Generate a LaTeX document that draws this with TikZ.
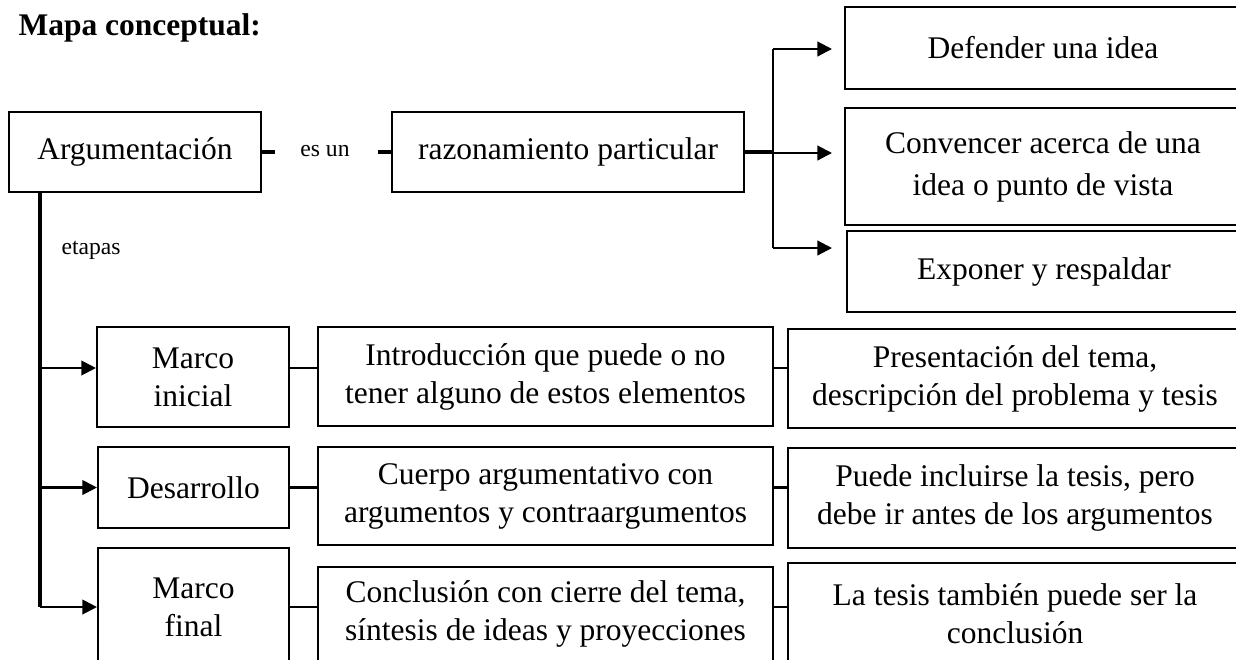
\documentclass[tikz,border=0pt]{standalone}
\usepackage{fontspec}
\setmainfont{Liberation Serif}
\usetikzlibrary{arrows.meta}

\tikzset{
    box/.style={draw, line width=0.8pt, align=center, inner sep=0pt, font=\fontsize{12}{14.5}\selectfont},
    bsize/.style 2 args={minimum width=#1*0.381pt, minimum height=#2*0.381pt},
    small/.style={inner sep=0pt, font=\fontsize{9}{11}\selectfont},
    lnk/.style={line width=0.8pt},
    stub/.style={line width=1.5pt},
    arr/.style={line width=0.8pt, -{Triangle[length=5.6pt,width=5.6pt]}}
}

\begin{document}
\begin{tikzpicture}[x=0.381pt, y=-0.381pt]
        \useasboundingbox (0,0) rectangle (1236,659);
        \node[anchor=base west, inner sep=0pt, font=\bfseries\fontsize{12}{14}\selectfont] (title) at (18,35) {Mapa conceptual:};

        % upper row
        \node[box, bsize={252}{80}] (arg) at (135,152) {Argumentación};
        \node[box, bsize={352}{80}] (raz) at (568,152) {razonamiento particular};
        \node[small] (esun) at (325,151) {es un};
        \coordinate (esl) at (275,152);
        \coordinate (esr) at (378,152);
        \draw[stub] (arg.east) -- (esl);
        \draw[stub] (esr) -- (raz.west);

        \node[box, bsize={396}{82}] (def) at (1043,48) {Defender una idea};
        \node[box, bsize={396}{117}, font=\fontsize{12}{16}\selectfont] (conv) at (1043,166.5) {Convencer acerca de una\\idea o punto de vista};
        \node[box, bsize={394}{81}] (expo) at (1044,271.5) {Exponer y respaldar};
        \coordinate (fork) at (773,152);
        \coordinate (t1) at (832,49);
        \coordinate (t2) at (832,153);
        \coordinate (t3) at (832,248);
        \draw[stub] (raz.east) -- (fork);
        \draw[lnk] (fork |- t1) -- (fork |- t3);
        \foreach \t in {t1,t2,t3}
            \draw[arr] (fork |- \t) -- (\t);

        % etapas
        \coordinate (trunk) at (40,192);
        \node[small, anchor=base west] (etapas) at (61,254) {etapas};
        \node[box, bsize={192}{100}] (mi) at (193,377) {Marco\\inicial};
        \node[box, bsize={191}{81}] (des) at (193.5,487.5) {Desarrollo};
        \node[box, bsize={191}{118}] (mf) at (193.5,607) {Marco\\final};
        \node[box, bsize={455}{99}] (intro) at (545.5,376.5) {Introducción que puede o no\\tener alguno de estos elementos};
        \node[box, bsize={455}{98}] (cuerpo) at (545.5,496) {Cuerpo argumentativo con\\argumentos y contraargumentos};
        \node[box, bsize={455}{94}] (concl) at (545.5,614) {Conclusión con cierre del tema,\\síntesis de ideas y proyecciones};
        \node[box, bsize={454}{99}] (pres) at (1015,378.5) {Presentación del tema,\\descripción del problema y tesis};
        \node[box, bsize={454}{100}] (puede) at (1015,498) {Puede incluirse la tesis, pero\\debe ir antes de los argumentos};
        \node[box, bsize={454}{102}] (tesis) at (1015,614) {La tesis también puede ser la\\conclusión};

        \coordinate (c1) at ([yshift=3.43pt]mi.east);
        \draw[line width=1.2pt] (trunk) -- (trunk |- mf.west);
        \draw[arr] (trunk |- c1) -- (mi.west |- c1);
        \draw[arr] (trunk |- des.west) -- (des.west);
        \draw[arr] (trunk |- mf.west) -- (mf.west);
        \draw[lnk] (c1) -- (intro.west |- c1);
        \draw[lnk] (intro.east |- c1) -- (pres.west |- c1);
        \draw[lnk] (des.east) -- (cuerpo.west |- des.east);
        \draw[lnk] (cuerpo.east |- des.east) -- (puede.west |- des.east);
        \draw[lnk] (mf.east) -- (concl.west |- mf.east);
        \draw[lnk] (concl.east |- mf.east) -- (tesis.west |- mf.east);
    \end{tikzpicture}
\end{document}
